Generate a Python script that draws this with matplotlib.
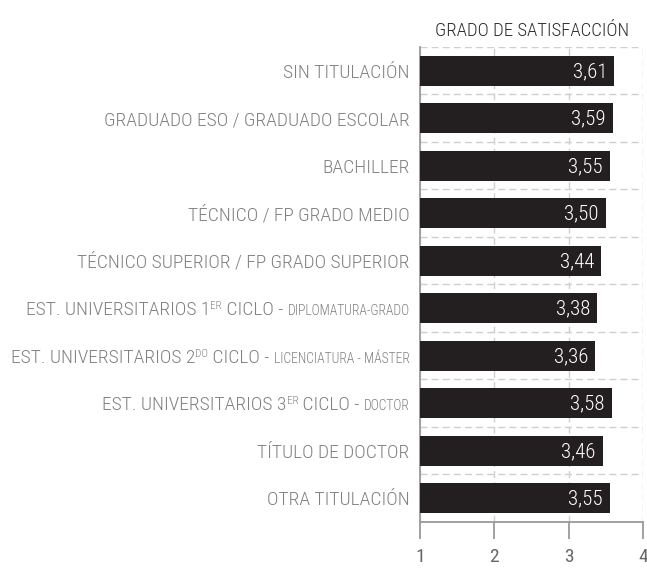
import matplotlib
matplotlib.use("Agg")
import matplotlib.pyplot as plt
import numpy as np

## Condensed light font, DejaVu Sans as fallback
plt.rcParams["font.family"] = ["Roboto Condensed", "DejaVu Sans"]
plt.rcParams["font.weight"] = 300

## Data (each label is a list of text pieces: n = normal, sup = superscript, s = small)
categorias = [
    [("SIN TITULACIÓN", "n")],
    [("GRADUADO ESO / GRADUADO ESCOLAR", "n")],
    [("BACHILLER", "n")],
    [("TÉCNICO / FP GRADO MEDIO", "n")],
    [("TÉCNICO SUPERIOR / FP GRADO SUPERIOR", "n")],
    [("EST. UNIVERSITARIOS 1", "n"), ("ER", "sup"), (" CICLO - ", "n"), ("DIPLOMATURA-GRADO", "s")],
    [("EST. UNIVERSITARIOS 2", "n"), ("DO", "sup"), (" CICLO - ", "n"), ("LICENCIATURA - MÁSTER", "s")],
    [("EST. UNIVERSITARIOS 3", "n"), ("ER", "sup"), (" CICLO - ", "n"), ("DOCTOR", "s")],
    [("TÍTULO DE DOCTOR", "n")],
    [("OTRA TITULACIÓN", "n")],
]
valores = [3.61, 3.59, 3.55, 3.50, 3.44, 3.38, 3.36, 3.58, 3.46, 3.55]
ticks_x = [1, 2, 3, 4]
titulo = "GRADO DE SATISFACCIÓN"

GRIS_TXT = "#808080"
GRIS_EJE = "#9a9a9a"
NEGRO = "#231f20"
DPI = 100

fig = plt.figure(figsize=(6.47, 5.70), dpi=DPI)
ax = fig.add_axes([420 / 647, 48 / 570, 223 / 647, 475 / 570])

y = np.arange(len(valores))
ax.barh(y, np.array(valores) - 1, left=1, height=0.64, color=NEGRO, zorder=3)

ax.set_xlim(1, 4)
ax.set_ylim(len(valores) - 0.5, -0.5)

## Grid: dashed lines between the rows and at each x tick
ax.set_yticks([])
ax.set_yticks(np.arange(-0.5, len(valores) - 1, 1), minor=True)
ax.tick_params(axis="y", which="both", length=0)
ax.grid(which="minor", axis="y", color="#cfcfcf", linestyle=(0, (5, 3)), linewidth=1, zorder=0)
ax.grid(which="major", axis="x", color="#cfcfcf", linestyle=(0, (5, 3)), linewidth=1, zorder=0)

ax.set_xticks(ticks_x)
ax.set_xticklabels([str(t) for t in ticks_x], fontweight=400)
ax.tick_params(axis="x", direction="out", length=12, width=1.3, color=GRIS_EJE,
               labelsize=14, labelcolor="#666666", pad=7)

for lado in ["top", "right"]:
    ax.spines[lado].set_visible(False)
for lado in ["left", "bottom"]:
    ax.spines[lado].set_color(GRIS_EJE)
    ax.spines[lado].set_linewidth(1.3)

## Values inside the bars
for i, v in enumerate(valores):
    ax.annotate(f"{v:.2f}".replace(".", ","), xy=(v, i), xytext=(-5, -0.5),
                textcoords="offset points", ha="right", va="center",
                color="white", fontsize=15)

## Category labels built right to left out of pieces
tam = {"n": 14, "sup": 8, "s": 9.8}
base = -5.0
desp = {"n": base, "s": base, "sup": base + 0.711 * (14 - 8)}
render = fig.canvas.get_renderer()
for i, piezas in enumerate(categorias):
    x_pt = -7.5
    for texto, estilo in reversed(piezas):
        t = ax.annotate(texto, xy=(1, i), xytext=(x_pt, desp[estilo]),
                        textcoords="offset points", ha="right", va="baseline",
                        color=GRIS_TXT, fontsize=tam[estilo])
        ancho = t.get_window_extent(render).width * 72 / DPI
        x_pt -= ancho

fig.text(532 / 647, 1 - 31 / 570, titulo, ha="center", va="center",
         fontsize=13.5, color="#2b2b2b")

fig.savefig("out.png", dpi=DPI)
